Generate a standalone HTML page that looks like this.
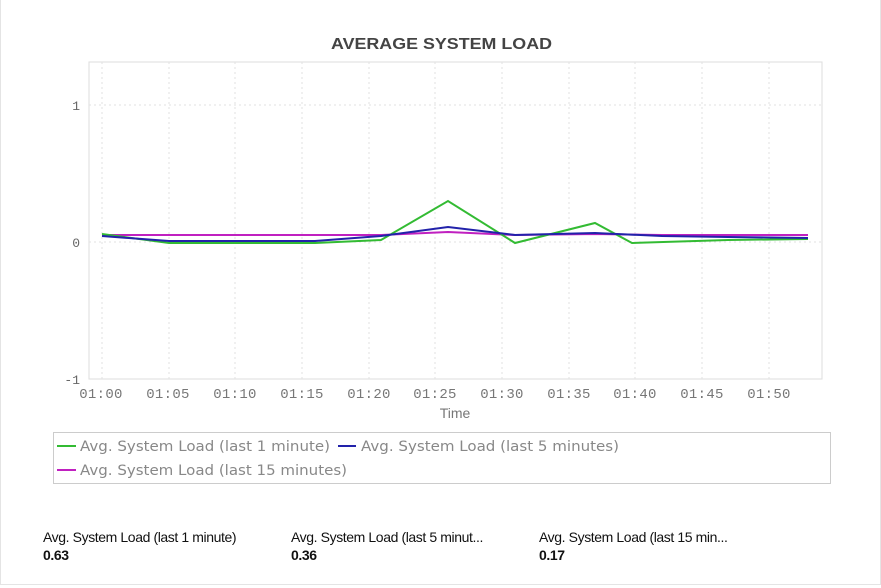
<!DOCTYPE html>
<html><head><style>
body{margin:0;background:#fff;width:881px;height:588px;overflow:hidden;position:relative;font-family:"Liberation Sans",sans-serif}
.frame{position:absolute;left:0;top:0;width:879px;height:584px;border:1px solid #e4e4e4;border-top:none}
.st{position:absolute;font-family:"Liberation Sans Narrow","Liberation Sans",sans-serif;font-size:14px;color:#111;letter-spacing:-0.4px}
.st b{display:block;font-size:14px;margin-top:2px}
</style></head><body>
<div class="frame"></div>
<svg width="881" height="588" style="position:absolute;left:0;top:0" font-family="Liberation Mono, monospace">
<text x="331" y="49" textLength="221" lengthAdjust="spacingAndGlyphs" font-family="Liberation Sans, sans-serif" font-weight="bold" font-size="16" fill="#444">AVERAGE SYSTEM LOAD</text>
<rect x="89" y="62" width="733" height="317" fill="none" stroke="#ddd"/>
<g stroke="#e2e2e2" stroke-dasharray="2,3">
<line x1="89" y1="105" x2="822" y2="105"/><line x1="89" y1="242" x2="822" y2="242"/>
<line x1="102" y1="62" x2="102" y2="379"/><line x1="169" y1="62" x2="169" y2="379"/><line x1="235" y1="62" x2="235" y2="379"/><line x1="302" y1="62" x2="302" y2="379"/><line x1="369" y1="62" x2="369" y2="379"/><line x1="435" y1="62" x2="435" y2="379"/><line x1="502" y1="62" x2="502" y2="379"/><line x1="569" y1="62" x2="569" y2="379"/><line x1="635" y1="62" x2="635" y2="379"/><line x1="702" y1="62" x2="702" y2="379"/><line x1="769" y1="62" x2="769" y2="379"/>
</g>
<g fill="#666" font-size="13">
<text x="80" y="110" text-anchor="end">1</text><text x="80" y="247" text-anchor="end">0</text><text x="80" y="384" text-anchor="end">-1</text>
</g>
<g fill="#777" font-size="14" text-anchor="middle" letter-spacing="0.3">
<text x="101" y="398">01:00</text><text x="168" y="398">01:05</text><text x="235" y="398">01:10</text><text x="302" y="398">01:15</text><text x="369" y="398">01:20</text><text x="435" y="398">01:25</text><text x="502" y="398">01:30</text><text x="569" y="398">01:35</text><text x="635" y="398">01:40</text><text x="702" y="398">01:45</text><text x="769" y="398">01:50</text>
</g>
<text x="455" y="418" text-anchor="middle" font-family="Liberation Sans, sans-serif" font-size="14" fill="#777">Time</text>
<polyline fill="none" stroke="#c020c0" stroke-width="2" points="102,235 169,235 235,235 315,235 381,235 448,232 515,235 595,234 662,235 728,235 808,235"/>
<polyline fill="none" stroke="#33bb33" stroke-width="2" points="102,234 169,243 235,243 315,243 381,240 448,201 515,243 595,223 632,243 728,240 808,239"/>
<polyline fill="none" stroke="#2222aa" stroke-width="2" points="102,236 169,241 235,241 315,241 381,236 448,227 515,235 595,233 662,236 728,237 808,238"/>
<rect x="53.5" y="432.5" width="777" height="51" fill="none" stroke="#ccc"/>
<g font-family="DejaVu Sans, sans-serif" font-size="14" fill="#888">
<line x1="57" y1="446" x2="76" y2="446" stroke="#33bb33" stroke-width="2"/><text x="80" y="451" textLength="250" lengthAdjust="spacingAndGlyphs">Avg. System Load (last 1 minute)</text>
<line x1="338" y1="446" x2="356" y2="446" stroke="#2222aa" stroke-width="2"/><text x="361" y="451" textLength="258" lengthAdjust="spacingAndGlyphs">Avg. System Load (last 5 minutes)</text>
<line x1="57" y1="470" x2="76" y2="470" stroke="#c020c0" stroke-width="2"/><text x="80" y="475" textLength="267" lengthAdjust="spacingAndGlyphs">Avg. System Load (last 15 minutes)</text>
</g>
</svg>
<div class="st" style="left:43px;top:529px">Avg. System Load (last 1 minute)<b>0.63</b></div>
<div class="st" style="left:291px;top:529px">Avg. System Load (last 5 minut...<b>0.36</b></div>
<div class="st" style="left:539px;top:529px">Avg. System Load (last 15 min...<b>0.17</b></div>
</body></html>
